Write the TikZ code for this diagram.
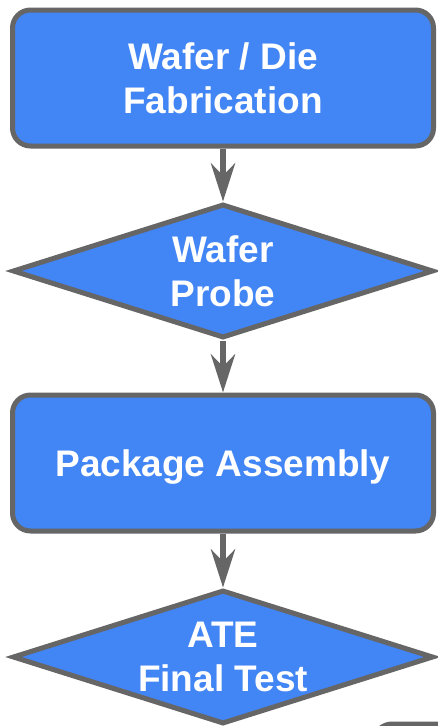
\documentclass[tikz,border=0pt]{standalone}
\usepackage{fontspec}
\setmainfont{Liberation Sans}
\usetikzlibrary{shapes.geometric,arrows.meta}
\definecolor{stepblue}{HTML}{4285F4}
\definecolor{edgegray}{HTML}{666666}
\tikzset{
  stepbox/.style={draw=edgegray, fill=stepblue, line width=5pt, rounded corners=18pt,
    minimum width=421pt, minimum height=136pt, align=center, text=white,
    font=\bfseries\fontsize{37}{44}\selectfont},
  checkbox/.style={diamond, draw=edgegray, fill=stepblue, line width=5pt, inner sep=0pt,
    shape aspect=3.05, minimum width=421pt, minimum height=134pt, align=center, text=white,
    font=\bfseries\fontsize{37}{44}\selectfont},
  flow/.style={draw=edgegray, line width=6pt, -{Stealth[length=38pt, width=24pt, inset=12pt]}}
}
\begin{document}
\begin{tikzpicture}[x=1pt,y=-1pt]
\useasboundingbox (0,0) rectangle (437,726);
\node[stepbox] (fab) at (223,78) {Wafer / Die\\Fabrication};
\node[checkbox] (probe) at (223,271) {Wafer\\Probe};
\node[stepbox, text depth=0pt] (pkg) at (223,463) {Package Assembly};
\node[checkbox] (ate) at (223,657) {ATE\\Final Test};
\draw[flow] (fab) -- (probe);
\draw[flow] (probe) -- (pkg);
\draw[flow] (pkg) -- (ate);
% next box, only its top edge shows
\draw[edgegray, line width=5pt, rounded corners=18pt] (374,724) rectangle (600,820);
\end{tikzpicture}
\end{document}
